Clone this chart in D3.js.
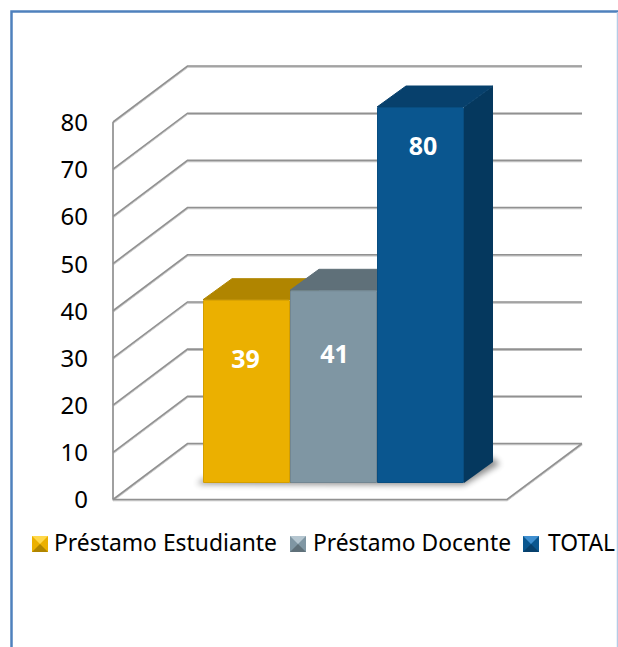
<!DOCTYPE html>
<html><head><meta charset="utf-8">
<script src="https://cdn.jsdelivr.net/npm/d3@7"></script>
<style>html,body{margin:0;padding:0;background:#fff;overflow:hidden}svg{display:block}text{font-family:"Noto Sans","Open Sans",sans-serif}</style>
</head><body><svg id="c" width="618" height="647"></svg>
<script>
const categories = ["Préstamo Estudiante", "Préstamo Docente", "TOTAL"];
const values = [39, 41, 80];
const tickValues = [0, 10, 20, 30, 40, 50, 60, 70, 80];
const frontColors = ["#ebb000", "#7f96a3", "#0a568f"];
const topColors = ["#b08500", "#5f7079", "#07406c"];
const sideColors = ["#a87f00", "#5a6b74", "#05385e"];
const lightColors = ["#ffd84a", "#b5c6d0", "#3f8fd0"];

const svg = d3.select("#c");
const defs = svg.append("defs");
defs.append("filter").attr("id","blur").attr("x","-30%").attr("y","-30%").attr("width","160%").attr("height","160%")
  .append("feGaussianBlur").attr("stdDeviation",3);
defs.append("filter").attr("id","lineShadow").attr("x","-5%").attr("y","-50%").attr("width","110%").attr("height","200%")
  .append("feDropShadow").attr("dx",0).attr("dy",1).attr("stdDeviation",0.7).attr("flood-color","#000").attr("flood-opacity",0.25);

// panel frame
svg.append("path").attr("d","M11.5,647V11.5H618").attr("fill","none").attr("stroke","#4f81bd").attr("stroke-width",2.5);
svg.append("line").attr("x1",617.5).attr("x2",617.5).attr("y1",12).attr("y2",647).attr("stroke","#b5cce6").attr("stroke-width",1.5);

// scales
const y = d3.scaleLinear().domain([0,80]).range([499.5,122]);
const yBar = d3.scaleLinear().domain([0,80]).range([483,107]);
const x = d3.scaleBand().domain(categories).range([203,464]).padding(0);
const wallDx = 74.5, wallDy = -56, barDx = 29, barDy = -21;
const frontLeft = 113, frontRight = 507, backRight = 582;

// walls and floor
const grid = svg.append("g").attr("filter","url(#lineShadow)").attr("fill","none").attr("stroke","#919191").attr("stroke-width",1.6);
grid.selectAll("path.g").data(tickValues).join("path").attr("class","g")
  .attr("d", t => d3.line()([[frontLeft,y(t)],[frontLeft+wallDx,y(t)+wallDy],[backRight,y(t)+wallDy]]));
grid.append("line").attr("x1",frontLeft).attr("x2",frontLeft).attr("y1",y(80)).attr("y2",y(0));
grid.append("path").attr("d", d3.line()([[frontLeft,y(0)],[frontRight,y(0)],[backRight,y(0)+wallDy]]));

// axis labels
const tickG = svg.append("g").attr("text-anchor","end").attr("font-size",24).attr("fill","#000");
tickG.selectAll("text").data(tickValues).join("text").attr("x",88).attr("y",t=>y(t)+2.5)
  .attr("dominant-baseline","middle").text(d=>d);

// bar shadow on floor
const x0 = x(categories[0]), x1 = x(categories[2])+x.bandwidth();
svg.append("path").attr("filter","url(#blur)").attr("fill","#000").attr("opacity",0.45)
  .attr("d", d3.line()([[x0-6,yBar(0)+1],[x1,yBar(0)+2],[x1+barDx+7,yBar(0)+barDy+2],[x1+barDx,yBar(0)+barDy-4],[x0,yBar(0)-4]]));

// bars
const bars = svg.selectAll("g.bar").data(categories).join("g").attr("class","bar");
const line = d3.line();
bars.append("path").attr("fill",(c,i)=>sideColors[i]).attr("d",(c,i)=>{
  const r=x(c)+x.bandwidth();
  return line([[r,yBar(values[i])],[r+barDx,yBar(values[i])+barDy],[r+barDx,yBar(0)+barDy],[r,yBar(0)]])+"Z";});
bars.append("path").attr("fill",(c,i)=>topColors[i]).attr("stroke",(c,i)=>topColors[i]).attr("stroke-width",1).attr("stroke-linejoin","round").attr("d",(c,i)=>{
  const l=x(c), r=l+x.bandwidth(), t=yBar(values[i]);
  return line([[l,t],[l+barDx,t+barDy],[r+barDx,t+barDy],[r,t]])+"Z";});
bars.append("rect").attr("x",c=>x(c)).attr("width",x.bandwidth()).attr("rx",1.5)
  .attr("y",(c,i)=>yBar(values[i])).attr("height",(c,i)=>yBar(0)-yBar(values[i]))
  .attr("fill",(c,i)=>frontColors[i]);
bars.append("rect").attr("x",c=>x(c)+0.5).attr("width",x.bandwidth()-1)
  .attr("y",(c,i)=>yBar(values[i])+0.5).attr("height",(c,i)=>yBar(0)-yBar(values[i])-1)
  .attr("fill","none").attr("stroke","#000").attr("stroke-opacity",0.1);

// value labels
const labelDrop = [61, 66, 41], labelShift = [-1, 1, 2.5];
svg.selectAll("text.val").data(categories).join("text").attr("class","val")
  .attr("x",(c,i)=>x(c)+x.bandwidth()/2+labelShift[i])
  .attr("y",(c,i)=>yBar(values[i])+labelDrop[i])
  .attr("text-anchor","middle").attr("dominant-baseline","middle")
  .attr("font-size",25).attr("font-weight",700).attr("fill","#fff").text((c,i)=>values[i]);

// legend
const legendX = [32, 290, 523], textX = [54, 313, 548], textW = [223, 198, 67], legendY = 544, s = 16;
const leg = svg.selectAll("g.leg").data(categories).join("g").attr("class","leg");
leg.append("rect").attr("x",(c,i)=>legendX[i]).attr("y",legendY-s/2).attr("width",s).attr("height",s).attr("fill",(c,i)=>frontColors[i]);
leg.append("path").attr("fill",(c,i)=>lightColors[i]).attr("d",(c,i)=>{
  const a=legendX[i],b=legendY-s/2; return line([[a,b],[a+s,b],[a+s/2,b+s/2]])+"Z";});
leg.append("path").attr("fill",(c,i)=>topColors[i]).attr("d",(c,i)=>{
  const a=legendX[i],b=legendY-s/2; return line([[a,b+s],[a+s,b+s],[a+s/2,b+s/2]])+"Z";});
leg.append("text").attr("x",(c,i)=>textX[i]).attr("y",legendY+0.5).attr("dominant-baseline","middle")
  .attr("font-size",23.5).attr("textLength",(c,i)=>textW[i]).attr("lengthAdjust","spacingAndGlyphs")
  .attr("fill","#000").text(c=>c);
</script></body></html>
